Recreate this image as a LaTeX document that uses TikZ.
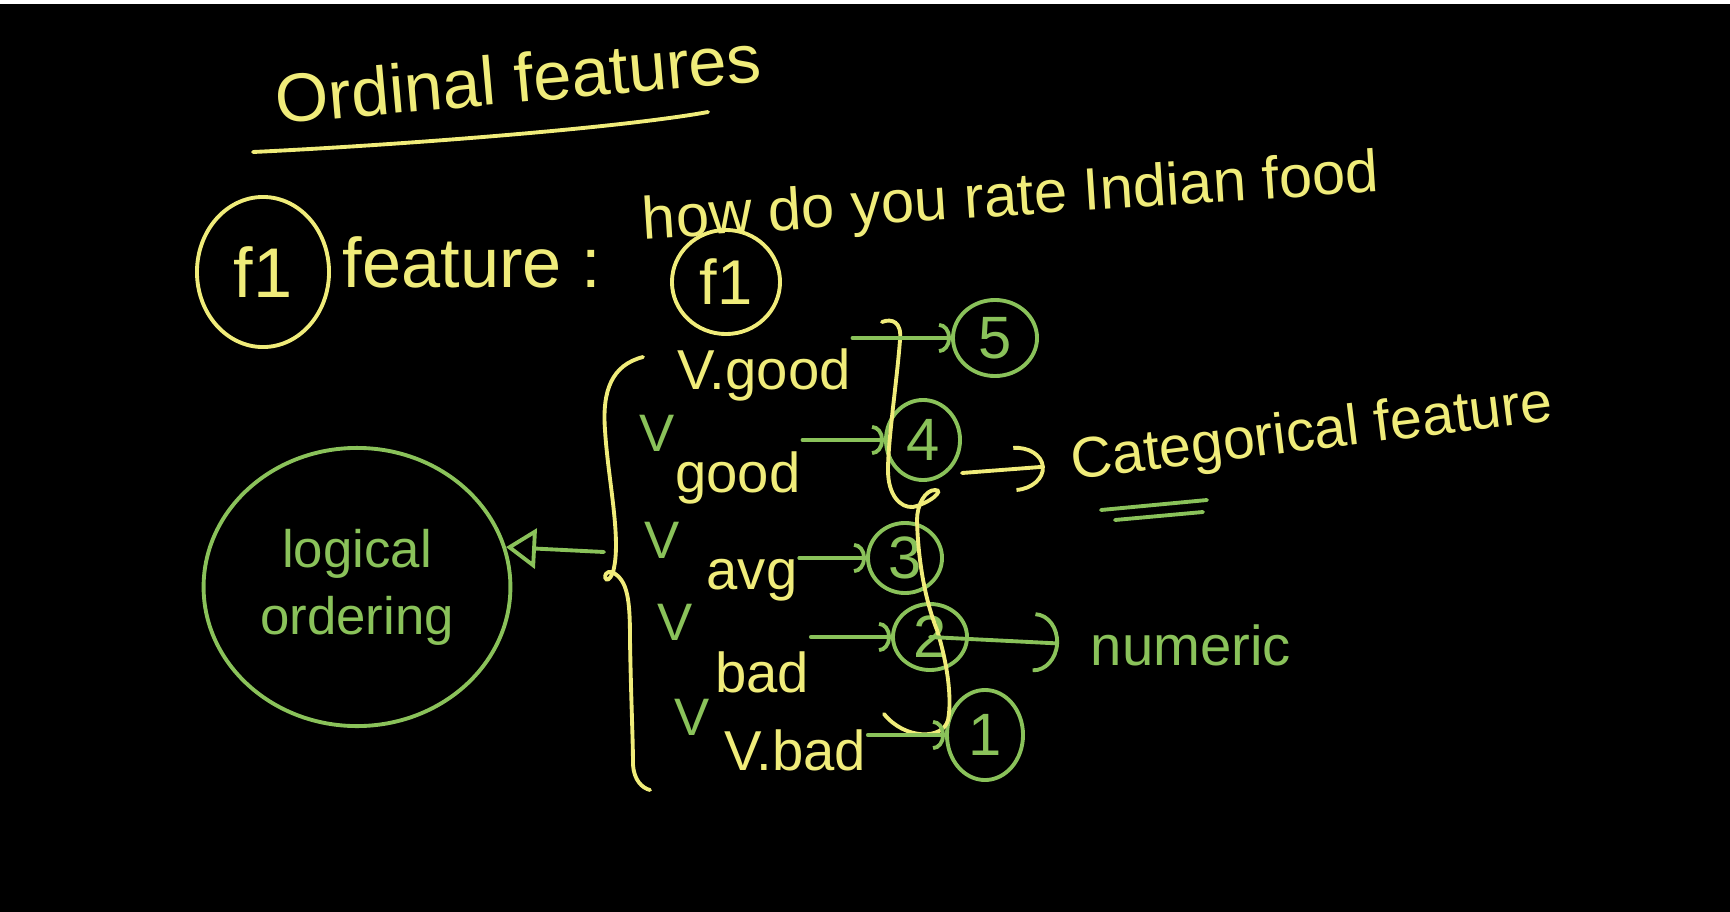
\documentclass[tikz,border=0pt]{standalone}
\usepackage{fontspec}
\setmainfont{Liberation Sans}
\usetikzlibrary{positioning,arrows.meta,shapes.geometric}
\definecolor{chalkyellow}{RGB}{240,236,122}
\definecolor{chalkgreen}{RGB}{138,194,90}

\begin{document}
\begin{tikzpicture}[
  x=0.01cm, y=-0.01cm,
  line width=1.1pt, line cap=round,
  yword/.style={text=chalkyellow, inner sep=0pt, font=\fontsize{16}{19}\selectfont},
  gword/.style={text=chalkgreen, inner sep=0pt, font=\fontsize{15}{18}\selectfont},
  yring/.style={draw=chalkyellow, ellipse, text=chalkyellow, inner sep=0pt,
                font=\fontsize{20}{24}\selectfont},
  gring/.style={draw=chalkgreen, ellipse, text=chalkgreen, inner sep=0pt,
                font=\fontsize{17}{20}\selectfont},
  gflow/.style={draw=chalkgreen, -{Arc Barb[length=1.2mm,width=3mm]}},
  yflow/.style={draw=chalkyellow, -{Arc Barb[length=3mm,width=4.6mm]}},
]
  \fill[black] (0,0) rectangle (1730,912);
  \fill[white] (0,0) rectangle (1730,4);

  \node[yword, font=\fontsize{19.5}{23}\selectfont, rotate=5] (title) at (518,78) {Ordinal features};
  \draw[chalkyellow] (253,152) .. controls (400,145) and (620,128) .. (708,112);

  \node[yring, minimum width=1.32cm, minimum height=1.5cm] (fbig) at (263,272) {f1};
  \node[yword, font=\fontsize{20}{24}\selectfont] (feat) at (472,262) {feature :};
  \node[yword, font=\fontsize{17}{20}\selectfont, rotate=3.7] (quest) at (1011,200)
    {how do you rate Indian food};
  \node[yring, minimum width=1.08cm, minimum height=1.04cm, font=\fontsize{18}{22}\selectfont]
    (fsmall) at (726,282) {f1};

  \node[yword] (vgood) at (764,375) {V.good};
  \node[yword] (good) at (738,478) {good};
  \node[yword] (avg) at (752,580) {avg};
  \node[yword] (bad) at (762,672) {bad};
  \node[yword] (vbad) at (795,750) {V.bad};

  \node[gword] (v1) at (657,433) {V};
  \node[gword] (v2) at (662,540) {V};
  \node[gword] (v3) at (675,622) {V};
  \node[gword] (v4) at (692,717) {V};

  \node[gring, minimum width=0.84cm, minimum height=0.76cm] (r5) at (995,338) {5};
  \node[gring, minimum width=0.74cm, minimum height=0.80cm] (r4) at (923,440) {4};
  \node[gring, minimum width=0.74cm, minimum height=0.70cm] (r3) at (905,558) {3};
  \node[gring, minimum width=0.74cm, minimum height=0.66cm] (r2) at (930,637) {2};
  \node[gring, minimum width=0.76cm, minimum height=0.90cm] (r1) at (985,735) {1};

  \node[draw=chalkgreen, ellipse, minimum width=2.74cm, minimum height=2.78cm,
        text=chalkgreen, align=center, font=\fontsize{15}{19}\selectfont]
    (logic) at (357,587) {logical\\ordering};

  \node[yword, font=\fontsize{16.3}{19}\selectfont, rotate=7] (cat) at (1312,435) {Categorical feature};
  \node[gword, font=\fontsize{16}{19}\selectfont] (num) at (1191,645) {numeric};

  \draw[chalkyellow] (643,357) .. controls (612,365) and (602,390) .. (605,430)
    .. controls (608,480) and (622,540) .. (613,572)
    .. controls (606,590) and (600,570) .. (612,572)
    .. controls (628,580) and (630,600) .. (630,640)
    .. controls (631,700) and (633,740) .. (633,765)
    .. controls (634,780) and (642,788) .. (650,790);
  \coordinate (lmid) at (604,552);

  \draw[chalkyellow] (882,322) .. controls (892,318) and (902,322) .. (900,340)
    .. controls (897,380) and (888,440) .. (888,470)
    .. controls (888,495) and (900,508) .. (913,507)
    .. controls (930,503) and (945,490) .. (935,490)
    .. controls (925,490) and (917,505) .. (917,520)
    .. controls (918,560) and (925,600) .. (937,630)
    .. controls (948,665) and (952,700) .. (948,720)
    .. controls (943,740) and (905,740) .. (884,714);
  \coordinate (rmid) at (962,473);

  \draw[gflow] (r5.west -| vgood.east) -- (r5.west);
  \draw[gflow] (r4.west -| good.east) -- (r4.west);
  \draw[gflow] (r3.west -| avg.east) -- (r3.west);
  \draw[gflow] (r2.west -| bad.east) -- (r2.west);
  \draw[gflow] (r1.west -| vbad.east) -- (r1.west);

  \draw[yflow, shorten >=2.5mm] (rmid) -- (cat.west);
  \draw[draw=chalkgreen, -{Arc Barb[length=2.5mm,width=6mm]}, shorten >=3mm] (r2.center) -- (num.west);
  \draw[draw=chalkgreen, -{Triangle[open,length=3mm,width=4mm]}] (lmid) -- (logic.15);

  \draw[chalkgreen] (1101,510) -- (1207,500);
  \draw[chalkgreen] (1115,520) -- (1203,512);
\end{tikzpicture}
\end{document}
